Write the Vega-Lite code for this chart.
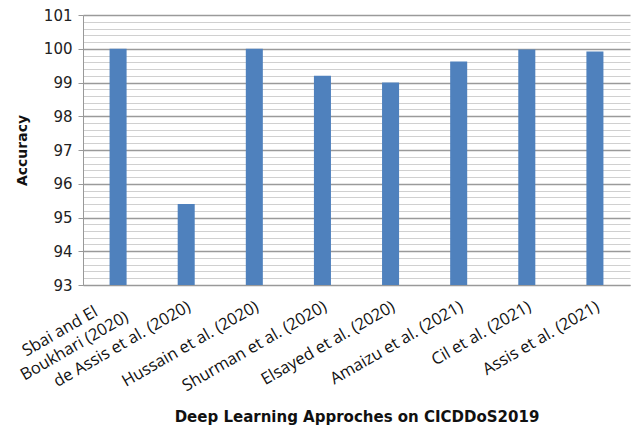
{
  "$schema": "https://vega.github.io/schema/vega-lite/v6.json",
  "autosize": {"type": "none"},
  "padding": {"left": 83, "top": 15, "right": 6, "bottom": 149},
  "width": 547,
  "height": 270,
  "background": "white",
  "data": {
    "values": [
      {"approach": "Sbai and El Boukhari (2020)", "accuracy": 100},
      {"approach": "de Assis et al. (2020)", "accuracy": 95.4},
      {"approach": "Hussain et al. (2020)", "accuracy": 100},
      {"approach": "Shurman et al. (2020)", "accuracy": 99.2},
      {"approach": "Elsayed et al. (2020)", "accuracy": 99.0},
      {"approach": "Amaizu et al. (2021)", "accuracy": 99.62},
      {"approach": "Cil et al. (2021)", "accuracy": 99.98},
      {"approach": "Assis et al. (2021)", "accuracy": 99.92}
    ]
  },
  "mark": {"type": "bar", "color": "#4F81BD", "clip": true},
  "encoding": {
    "x": {
      "field": "approach",
      "type": "nominal",
      "sort": null,
      "scale": {"paddingInner": 0.75, "paddingOuter": 0.39},
      "axis": {
        "title": "Deep Learning Approches on CICDDoS2019",
        "titleFont": "DejaVu Sans",
        "titleFontSize": 15,
        "titleFontWeight": "bold",
        "titleColor": "#111",
        "titleY": 131,
        "titleBaseline": "middle",
        "labelAngle": -30,
        "labelAlign": "right",
        "labelBaseline": {"condition": {"test": "datum.value == 'Sbai and El Boukhari (2020)'", "value": "middle"}, "value": "top"},
        "labelFont": "Open Sans",
        "labelFontSize": 16.5,
        "labelColor": "#111",
        "labelPadding": 13,
        "labelOffset": -1,
        "labelLimit": 300,
        "labelLineHeight": 20,
        "labelExpr": "datum.label == 'Sbai and El Boukhari (2020)' ? ['Sbai and El\u2800\u2800', 'Boukhari (2020)'] : datum.label",
        "ticks": false,
        "domainColor": "#999",
        "grid": false
      }
    },
    "y": {
      "field": "accuracy",
      "type": "quantitative",
      "scale": {"domain": [93, 101], "zero": false, "nice": false},
      "axis": {
        "title": "Accuracy",
        "titleFont": "DejaVu Sans",
        "titleFontSize": 14,
        "titleFontWeight": "bold",
        "titleColor": "#111",
        "titlePadding": 14,
        "values": [93, 93.2, 93.4, 93.6, 93.8, 94, 94.2, 94.4, 94.6, 94.8, 95, 95.2, 95.4, 95.6, 95.8, 96, 96.2, 96.4, 96.6, 96.8, 97, 97.2, 97.4, 97.6, 97.8, 98, 98.2, 98.4, 98.6, 98.8, 99, 99.2, 99.4, 99.6, 99.8, 100, 100.2, 100.4, 100.6, 100.8, 101],
        "labelExpr": "abs(datum.value - round(datum.value)) < 0.01 ? format(datum.value, 'd') : ''",
        "labelFont": "DejaVu Sans",
        "labelFontSize": 15,
        "labelColor": "#222",
        "labelPadding": 6,
        "tickSize": 5,
        "tickColor": "#999",
        "tickOpacity": {"condition": {"test": "abs(datum.value - round(datum.value)) < 0.01", "value": 1}, "value": 0},
        "domainColor": "#999",
        "grid": true,
        "gridColor": {"condition": {"test": "abs(datum.value - round(datum.value)) < 0.01", "value": "#9a9a9a"}, "value": "#d0d0d0"},
        "gridWidth": {"condition": {"test": "abs(datum.value - round(datum.value)) < 0.01", "value": 1.5}, "value": 1}
      }
    }
  },
  "config": {"view": {"stroke": null}}
}
